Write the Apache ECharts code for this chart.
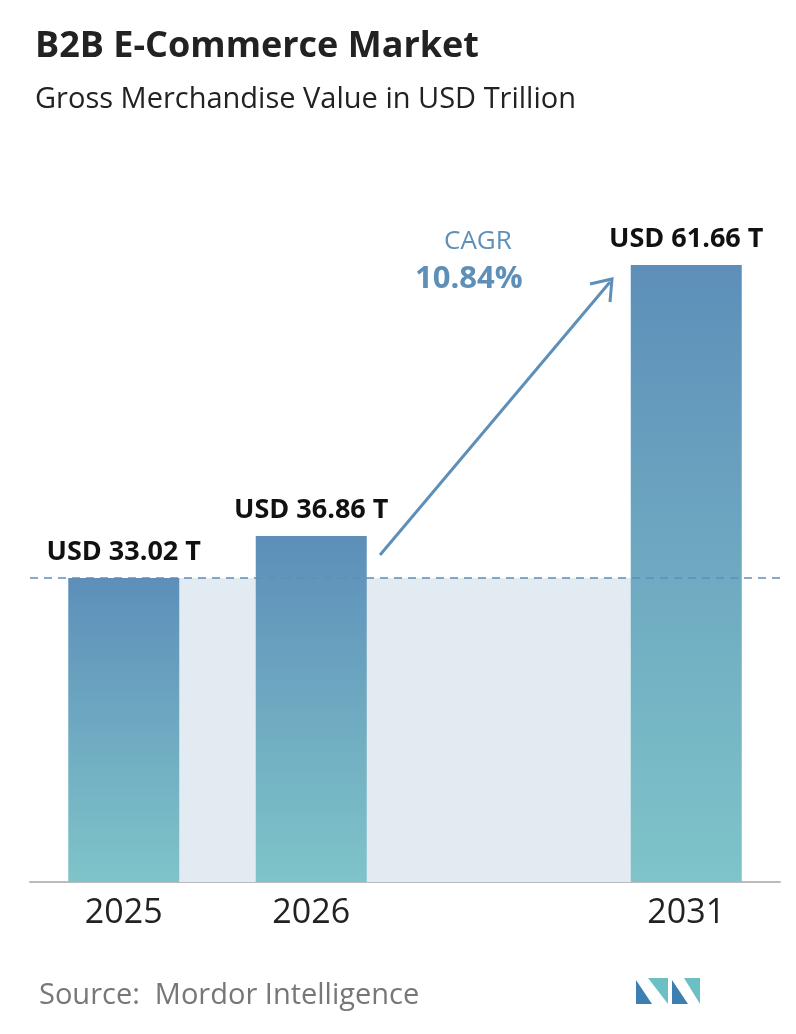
<!DOCTYPE html>
<html><head><meta charset="utf-8">
<script src="https://cdn.jsdelivr.net/npm/echarts@6/dist/echarts.min.js"></script>
<style>html,body{margin:0;padding:0;background:#fff}#chart{width:796px;height:1034px}</style>
</head><body><div id="chart"></div>
<script>
// data
var years = ['2025', '2026', '', '2031'];
var values = [33.02, 36.86, null, 61.66];
var valueLabels = ['USD 33.02 T', 'USD 36.86 T', '', 'USD 61.66 T'];
var cagr = '10.84%';
// shaded band up to the first-year value
var bandValues = years.map(function () { return values[0]; });

var chart = echarts.init(document.getElementById('chart'));

var barColor = new echarts.graphic.LinearGradient(0, 0, 0, 1, [
    {offset: 0, color: '#5d8fb9'},
    {offset: 1, color: '#7fc4c9'}
]);

var option = {
    animation: false,
    title: [
        {text: 'B2B E-Commerce Market', left: 30, top: 24,
         textStyle: {fontFamily: 'Open Sans', fontSize: 36, fontWeight: 'bold', color: '#222'}},
        {text: 'Gross Merchandise Value in USD Trillion', left: 30, top: 80,
         textStyle: {fontFamily: 'Open Sans', fontSize: 29, fontWeight: 'normal', color: '#222'}},
        {text: 'Source:  Mordor Intelligence', left: 34, top: 976,
         textStyle: {fontFamily: 'Open Sans', fontSize: 29, fontWeight: 'normal', color: '#777'}}
    ],
    grid: {left: 30, right: 16, top: 265, bottom: 152},
    xAxis: {
        type: 'category', data: years,
        axisLine: {lineStyle: {color: '#bbb', width: 2}},
        axisTick: {show: false},
        axisLabel: {fontFamily: 'Open Sans', fontSize: 34, fontWeight: 500, color: '#222', margin: 14}
    },
    yAxis: {type: 'value', min: 5.2, max: 61.66, show: false, splitLine: {show: false}},
    series: [{
        type: 'line', data: bandValues, symbol: 'none', silent: true, z: 1,
        lineStyle: {width: 0},
        areaStyle: {color: '#e2eaf2', opacity: 1, origin: 'start'}
    }, {
        type: 'bar', data: values, barWidth: 111,
        itemStyle: {color: barColor},
        z: 3,
        label: {
            show: true, position: 'top', distance: 12,
            formatter: function (p) { return valueLabels[p.dataIndex]; },
            fontFamily: 'Open Sans', fontSize: 27, fontWeight: 'bold', color: '#111'
        },
        markLine: {
            silent: true, symbol: 'none', label: {show: false},
            lineStyle: {color: '#5d8fb9', type: [8, 6], width: 1.5},
            data: [{yAxis: values[0]}]
        }
    }],
    graphic: [
        {type: 'line', shape: {x1: 380, y1: 555, x2: 610, y2: 282},
         style: {stroke: '#5d8fb9', lineWidth: 3}},
        {type: 'polyline', shape: {points: [[590, 284], [612, 279], [610, 302]]},
         style: {stroke: '#5d8fb9', lineWidth: 3, fill: null}},
        {type: 'text', left: 444, top: 229,
         style: {text: 'CAGR', fontFamily: 'Open Sans', fontSize: 26, fill: '#5d8fb9'}},
        {type: 'text', left: 415, top: 264,
         style: {text: cagr, fontFamily: 'Open Sans', fontSize: 31, fontWeight: 'bold', fill: '#5d8fb9'}},
        {type: 'polygon', shape: {points: [[636, 1004], [636, 980], [652, 1004]]}, style: {fill: '#3d7fb0'}},
        {type: 'polygon', shape: {points: [[648, 978], [668, 1004], [668, 978]]}, style: {fill: '#6cc0c4'}},
        {type: 'polygon', shape: {points: [[672, 1004], [672, 980], [688, 1004]]}, style: {fill: '#3d7fb0'}},
        {type: 'polygon', shape: {points: [[684, 978], [700, 1004], [700, 978]]}, style: {fill: '#6cc0c4'}}
    ]
};
chart.setOption(option);
</script></body></html>
